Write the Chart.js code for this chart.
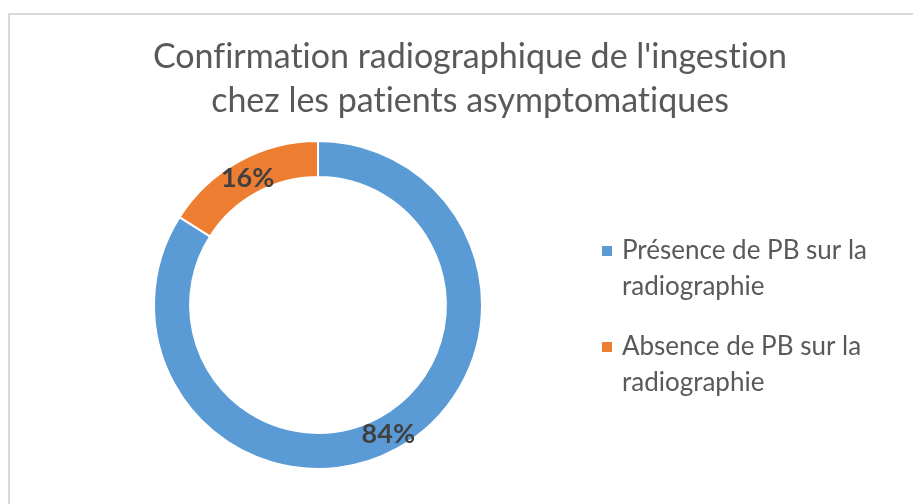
<!DOCTYPE html>
<html>
<head>
<meta charset="utf-8">
<script src="https://cdn.jsdelivr.net/npm/chart.js@4"></script>
<style>
    html, body { margin: 0; padding: 0; background: #fff; }
    #wrap { position: relative; width: 913px; height: 504px; }
</style>
</head>
<body>
<div id="wrap"><canvas id="donutChart" width="913" height="504"></canvas></div>
<script>
// Chart data
const titleLines = ["Confirmation radiographique de l'ingestion", 'chez les patients asymptomatiques'];
const categories = ['Présence de PB sur la radiographie', 'Absence de PB sur la radiographie'];
const shares = [84, 16];
const sliceColors = ['#5B9BD5', '#ED7D31'];

const textColor = '#595959';
const fontName = 'Lato, "Open Sans", sans-serif';

// frame, title, legend and slice labels drawn on the canvas
const excelLook = {
    id: 'excelLook',
    beforeDraw(chart) {
        const ctx = chart.ctx;
        ctx.save();
        ctx.strokeStyle = '#d9d9d9';
        ctx.lineWidth = 2;
        ctx.beginPath();
        ctx.moveTo(9, 504);
        ctx.lineTo(9, 14);
        ctx.lineTo(913, 14);
        ctx.stroke();
        ctx.restore();
    },
    afterDatasetsDraw(chart) {
        const ctx = chart.ctx;
        ctx.save();
        // no "fi" ligature, like the original
        ctx.textRendering = 'optimizeSpeed';

        // title
        ctx.fillStyle = textColor;
        ctx.font = '34px ' + fontName;
        ctx.textAlign = 'center';
        ctx.textBaseline = 'alphabetic';
        ctx.fillText(titleLines[0], 470, 68);
        ctx.fillText(titleLines[1], 470, 112);

        // percentage labels
        const meta = chart.getDatasetMeta(0);
        const total = shares.reduce((a, b) => a + b, 0);
        ctx.fillStyle = '#404040';
        ctx.font = 'bold 27px ' + fontName;
        ctx.textBaseline = 'middle';
        meta.data.forEach((arc, i) => {
            const p = arc.getCenterPoint();
            ctx.fillText(Math.round(shares[i] / total * 100) + '%', p.x, p.y + 1);
        });

        // legend
        ctx.font = '26px ' + fontName;
        ctx.textAlign = 'left';
        ctx.textBaseline = 'alphabetic';
        let y = 259;
        categories.forEach((label, i) => {
            ctx.fillStyle = sliceColors[i];
            ctx.fillRect(602, y - 13, 10, 10);
            ctx.fillStyle = textColor;
            const words = label.split(' ');
            let line = '';
            const lines = [];
            words.forEach(w => {
                const test = line ? line + ' ' + w : w;
                if (ctx.measureText(test).width > 280 && line) {
                    lines.push(line);
                    line = w;
                } else {
                    line = test;
                }
            });
            lines.push(line);
            lines.forEach((l, j) => ctx.fillText(l, 622, y + j * 36));
            y += 96;
        });
        ctx.restore();
    }
};

const ctx = document.getElementById('donutChart').getContext('2d');
new Chart(ctx, {
    type: 'doughnut',
    data: {
        labels: categories,
        datasets: [{
            data: shares,
            backgroundColor: sliceColors,
            borderColor: '#ffffff',
            borderWidth: 2,
            hoverOffset: 0
        }]
    },
    options: {
        responsive: false,
        animation: false,
        cutout: '78%',
        layout: {
            padding: { left: 153, right: 430, top: 140, bottom: 34 }
        },
        plugins: {
            legend: { display: false },
            title: { display: false },
            tooltip: { enabled: false }
        }
    },
    plugins: [excelLook]
});
</script>
</body>
</html>
